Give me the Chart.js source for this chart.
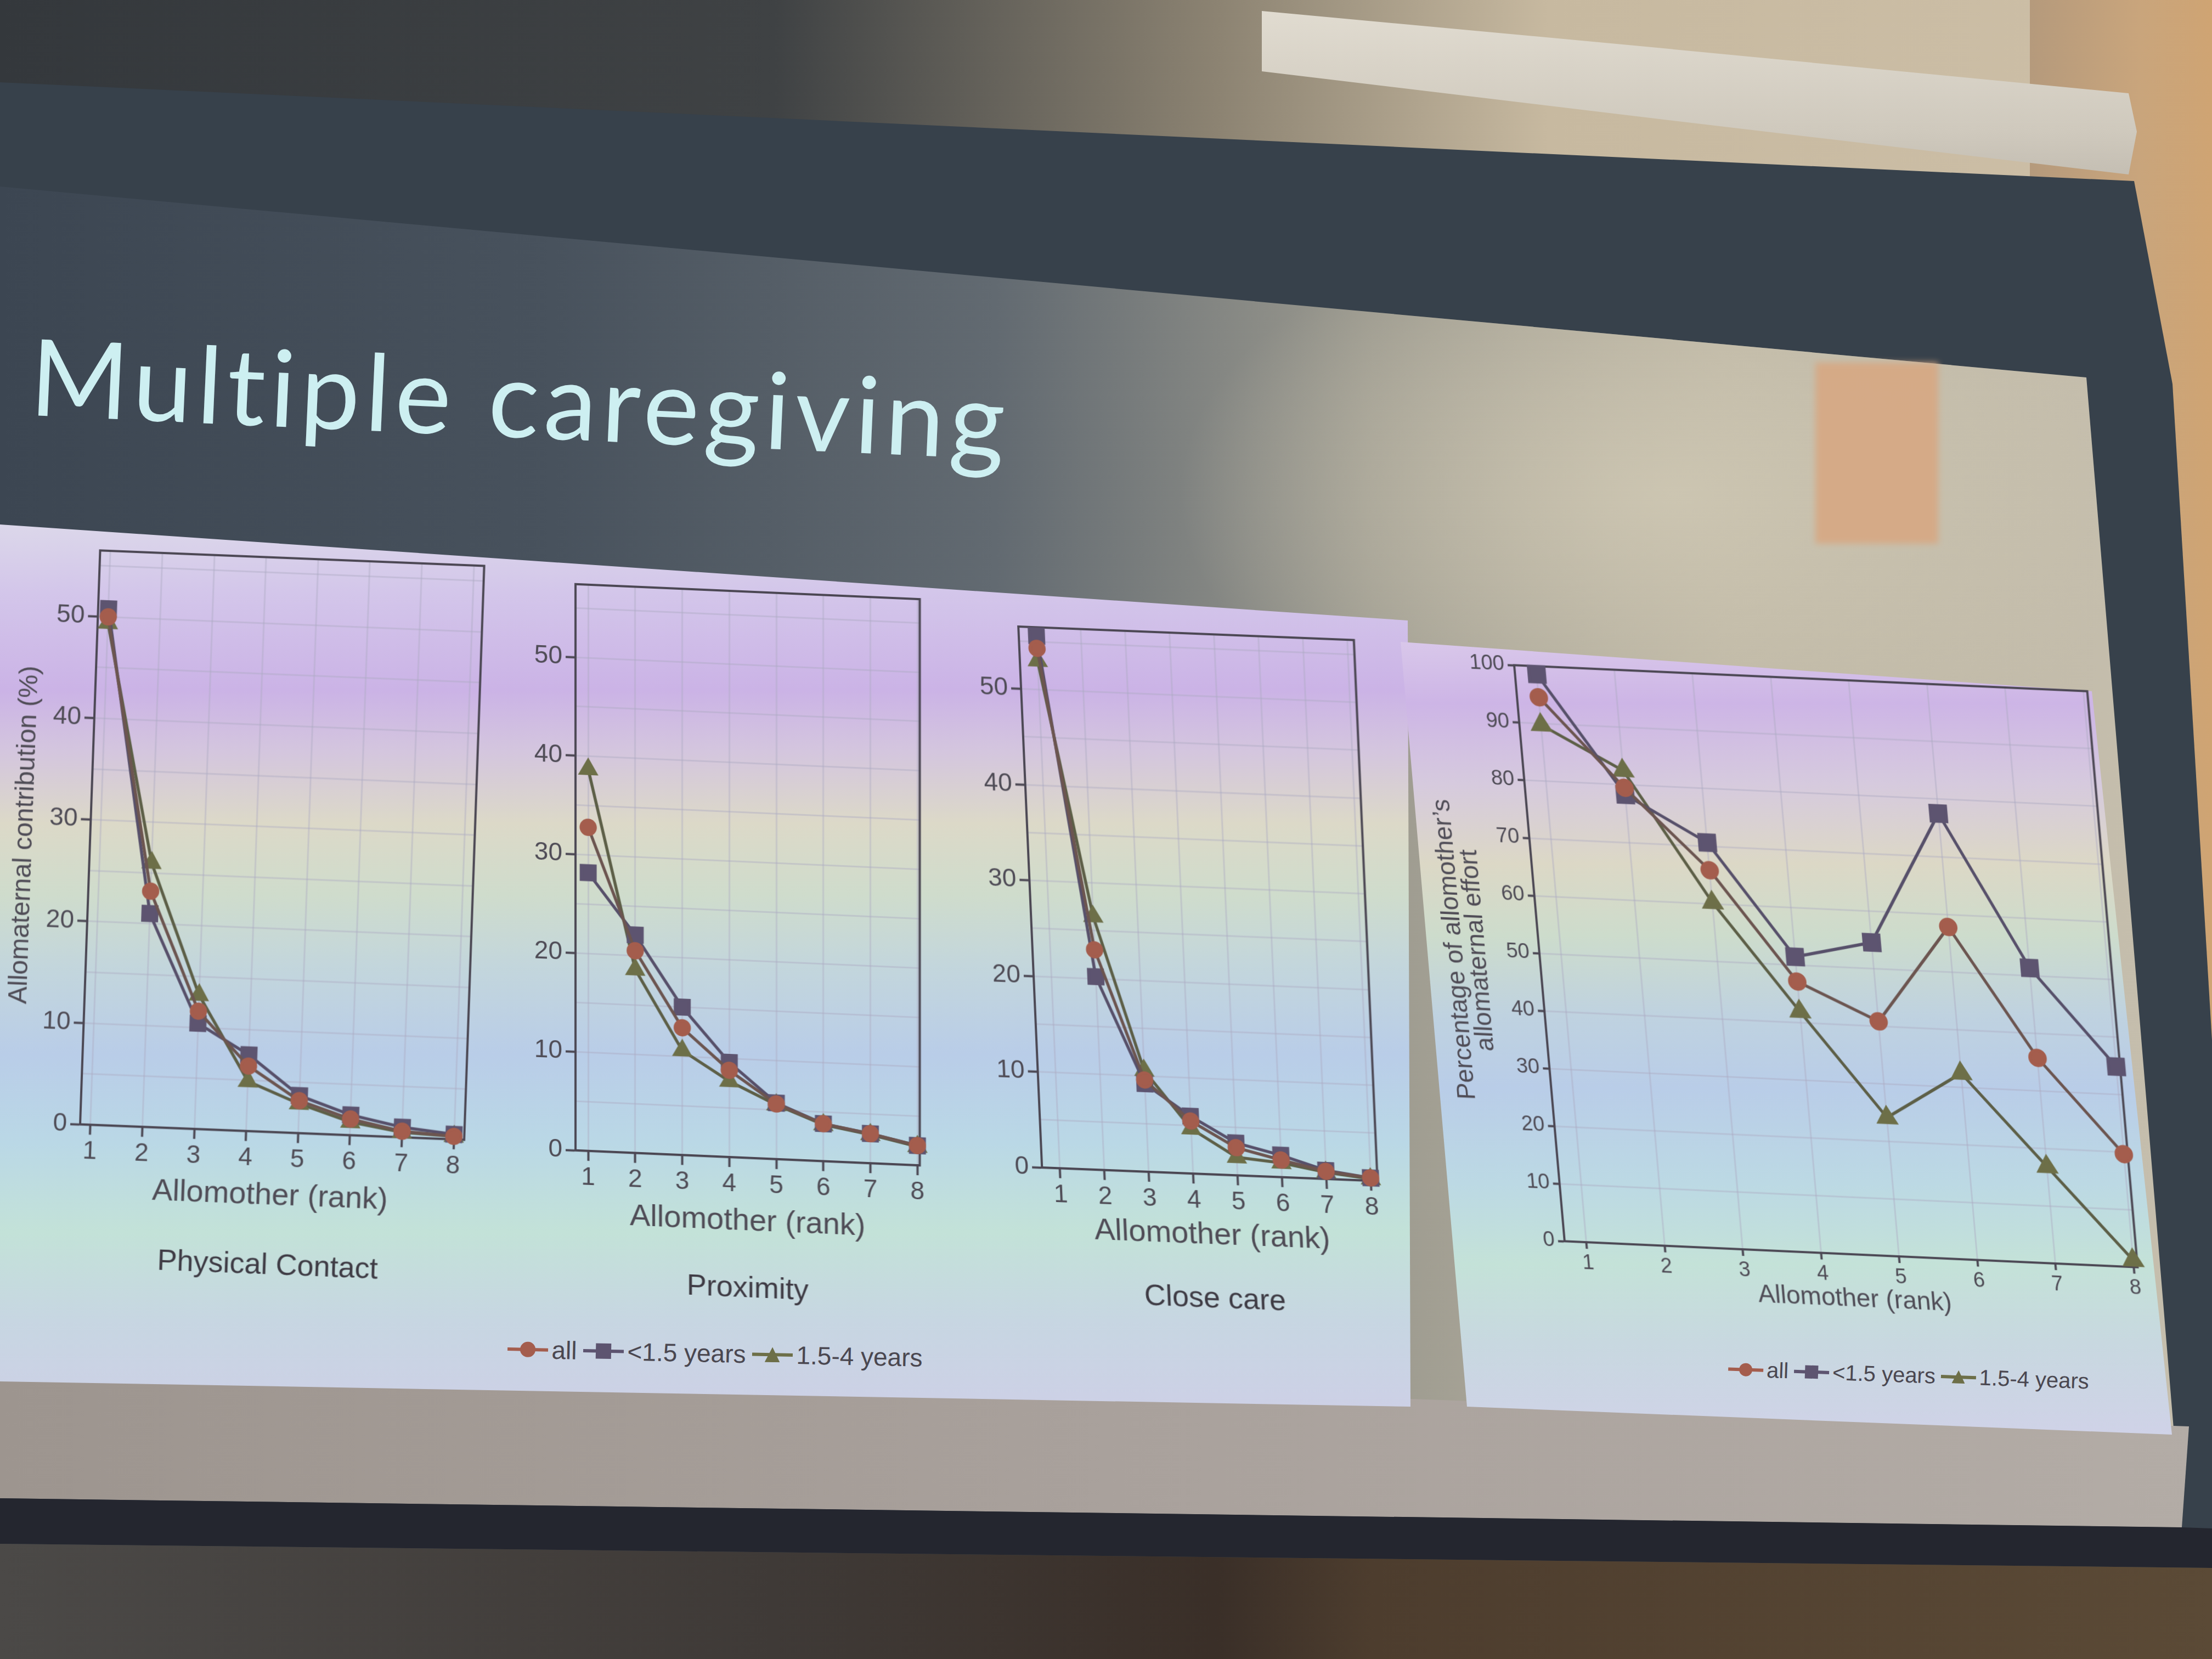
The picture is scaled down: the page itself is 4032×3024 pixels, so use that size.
<!DOCTYPE html>
<html>
<head>
<meta charset="utf-8">
<script src="https://cdn.jsdelivr.net/npm/chart.js@4.4.1/dist/chart.umd.min.js"></script>
<style>
  html, body { margin: 0; padding: 0; }
  body {
    width: 4032px; height: 3024px; position: relative; overflow: hidden;
    background: #3b3531; font-family: "Liberation Sans", Arial, sans-serif;
  }
  .abs { position: absolute; }
  #ceiling { left: 0; top: 0; width: 4032px; height: 420px;
    background: linear-gradient(90deg, #34383c 0%, #3f4244 35%, #8c8372 55%, #c7b9a0 70%, #cdbfa7 100%); }
  #wall { left: 3700px; top: 0; width: 332px; height: 2900px;
    background: linear-gradient(90deg, #b59a7c 0%, #c9a57c 60%, #cfa473 100%); }
  #screen { left: 0; top: 0; width: 4032px; height: 2900px; background: #37414b;
    clip-path: polygon(0 150px, 3890px 330px, 3960px 700px, 4090px 2860px, 0 2815px); }
  #roller { left: 0; top: 0; width: 4032px; height: 400px;
    background: linear-gradient(180deg, #e2ddd2 0%, #cfc9bd 60%, #b9b3a8 100%);
    clip-path: polygon(2300px 20px, 3000px 85px, 3880px 170px, 3895px 240px, 3880px 318px, 3000px 214px, 2300px 130px); }
  #slide { left: 0; top: 0; width: 4032px; height: 2900px;
    background:
      radial-gradient(ellipse 900px 520px at 3050px 900px, rgba(205,198,178,0.95), rgba(205,198,178,0) 100%),
      linear-gradient(90deg, #3c4652 0%, #48525d 25%, #626a71 45%, #9c9a8f 62%, #bdb6a4 78%, #c6bfae 100%);
    clip-path: polygon(0 340px, 3803px 688px, 3977px 2784px, 0 2731px); }
  #logo { left: 3309px; top: 661px; width: 224px; height: 330px; background: #d7a883; filter: blur(6px); opacity: 0.9; }
  #slideFoot { left: 0; top: 0; width: 4032px; height: 2900px;
    background: linear-gradient(90deg, #9d958f 0%, #a9a19c 50%, #b3aca6 100%);
    clip-path: polygon(0 2500px, 2571px 2550px, 3990px 2600px, 3977px 2784px, 0 2731px); }
  #bottomBar { left: 0; top: 0; width: 4032px; height: 3024px; background: #24262f;
    clip-path: polygon(0 2731px, 3977px 2784px, 4032px 2786px, 4032px 2858px, 0 2814px); }
  #floor { left: 0; top: 0; width: 4032px; height: 3024px;
    background: linear-gradient(90deg, #4b4947 0%, #3f3a37 35%, #3a2f28 55%, #4d3d2e 62%, #5b4a36 100%);
    clip-path: polygon(0 2814px, 4032px 2858px, 4032px 3024px, 0 3024px); }
  #title { left: 60px; top: 585px; font-family: "Lato", "Open Sans", sans-serif; font-weight: 400;
    font-size: 194px; line-height: 1; letter-spacing: 9px; color: #cdeff1; white-space: nowrap;
    transform: rotate(2.6deg); transform-origin: 0 0; }
  #panel1 { left: 0; top: 950px; width: 2580px; height: 1620px;
    background: linear-gradient(180deg, #dcd8ea 0%, #d3c6ea 8%, #cbb3e6 19%, #d4c6de 26%, #dcd9c8 34%,
      #cfdccc 42%, #c3d6dc 50%, #b9cde8 60%, #bad8e6 70%, #c3e2d8 80%, #c7d6e2 90%, #cdd0e6 100%);
    clip-path: polygon(0 6px, 2566px 181px, 2571px 1614px, 0 1568px); }
  #panel2 { left: 2550px; top: 1165px; width: 1420px; height: 1460px;
    background: linear-gradient(180deg, #d9c8ea 0%, #cdb5e6 8%, #d6cade 18%, #dcd8c6 28%, #cddccc 37%,
      #bfd2e0 47%, #b9cde8 56%, #bcd9e4 68%, #c4e2d8 78%, #c8d8e0 88%, #d0d2e8 100%);
    clip-path: polygon(3px 5px, 1263px 95px, 1409px 1450px, 124px 1399px); }
  canvas { position: absolute; }
  .legend { position: absolute; font-family: "Liberation Sans Narrow", "Liberation Sans", Arial, sans-serif;
    color: #4a4750; white-space: nowrap; display: flex; align-items: center; }
  .legend .item { display: inline-flex; align-items: center; }
  .legend .sym { position: relative; display: inline-block; }
  .legend .bar { position: absolute; left: 0; right: 0; top: 50%; }
  .legend .mk { position: absolute; left: 50%; top: 50%; }
</style>
</head>
<body>
<div id="ceiling" class="abs"></div>
<div id="wall" class="abs"></div>
<div id="screen" class="abs"></div>
<div id="roller" class="abs"></div>
<div id="slide" class="abs"></div>
<div id="logo" class="abs"></div>
<div id="slideFoot" class="abs"></div>
<div id="bottomBar" class="abs"></div>
<div id="floor" class="abs"></div>
<div id="title" class="abs">Multiple caregiving</div>
<div id="panel1" class="abs"></div>
<div id="panel2" class="abs"></div>

<canvas id="contact" width="880" height="1393" style="left:10px; top:965px; transform: skew(-2deg, 2.3deg);"></canvas>
<canvas id="proximity" width="741" height="1364" style="left:959px; top:1037px; transform: skew(0deg, 2.5deg);"></canvas>
<canvas id="closecare" width="725" height="1307" style="left:1793px; top:1113px; transform: skew(2.5deg, 2.3deg);"></canvas>
<canvas id="effort" width="1280" height="1222" style="left:2600px; top:1192px; transform: skew(5deg, 2.6deg);"></canvas>

<div id="legend1" class="legend" style="left:925px; top:2440px; font-size:46px; transform: rotate(1.2deg);"></div>
<div id="legend2" class="legend" style="left:3150px; top:2484px; font-size:40px; transform: rotate(2deg);"></div>

<script>
// allomother rank on the x axis
const ranks = [1, 2, 3, 4, 5, 6, 7, 8];
const seriesNames = ["all", "<1.5 years", "1.5-4 years"];

// Physical Contact (%)
const contactAll = [50.0, 23.2, 11.6, 6.4, 3.2, 1.6, 0.6, 0.3];
const contactYoung = [50.8, 21.0, 10.4, 7.5, 3.7, 2.0, 1.0, 0.5];
const contactOld = [49.4, 26.0, 13.2, 4.9, 2.9, 1.3, 0.5, 0.3];

// Proximity (%)
const proximityAll = [32.8, 20.5, 12.9, 8.8, 5.6, 3.8, 3.0, 2.0];
const proximityYoung = [28.2, 22.1, 15.0, 9.6, 5.7, 3.8, 3.0, 2.0];
const proximityOld = [38.7, 18.6, 10.6, 7.7, 5.5, 3.7, 2.9, 1.9];

// Close care (%)
const closeAll = [54.3, 23.0, 9.6, 5.5, 2.9, 1.8, 0.8, 0.3];
const closeYoung = [55.6, 20.2, 9.2, 6.0, 3.4, 2.3, 0.9, 0.3];
const closeOld = [53.0, 26.5, 10.6, 4.7, 1.9, 1.5, 0.7, 0.2];

// percentage of allomother's allomaternal effort
const effortAll = [94.6, 79.5, 65.8, 47.1, 40.8, 57.8, 35.7, 19.6];
const effortYoung = [98.6, 78.3, 70.6, 51.4, 54.5, 77.5, 51.3, 34.8];
const effortOld = [89.8, 82.5, 60.2, 41.9, 24.1, 32.4, 16.8, 1.2];

// y ticks: grid every 5, labels every 10
const contributionGrid = [0, 5, 10, 15, 20, 25, 30, 35, 40, 45, 50, 55];
const contributionLabels = [0, 10, 20, 30, 40, 50];
const effortGrid = [0, 10, 20, 30, 40, 50, 60, 70, 80, 90, 100];
const effortLabels = [0, 10, 20, 30, 40, 50, 60, 70, 80, 90, 100];

const markerColors = ["#a45d4d", "#5d5470", "#6d6f48"];
const lineColors = ["#6c5550", "#57506a", "#5d5f47"];
const pointStyles = ["circle", "rect", "triangle"];
const axisColor = "#4b4753";
const textColor = "#4f4c56";
const gridColor = "rgba(172, 170, 192, 0.42)";
const fontFamily = "'Liberation Sans', Arial, sans-serif";

const plotFrame = {
  id: "plotFrame",
  beforeDatasetsDraw(chart) {
    const { ctx, chartArea } = chart;
    ctx.save();
    ctx.strokeStyle = axisColor;
    ctx.lineWidth = 4;
    ctx.strokeRect(chartArea.left, chartArea.top, chartArea.right - chartArea.left, chartArea.bottom - chartArea.top);
    ctx.restore();
  },
};

function makeChart(id, o) {
  const ctx = document.getElementById(id).getContext("2d");
  return new Chart(ctx, {
    type: "line",
    data: {
      datasets: o.series.map((vals, i) => ({
        label: seriesNames[i],
        data: ranks.map((r, k) => ({ x: r, y: vals[k] })),
        borderColor: lineColors[i],
        backgroundColor: markerColors[i],
        pointBackgroundColor: markerColors[i],
        pointBorderColor: markerColors[i],
        pointStyle: pointStyles[i],
        pointRadius: o.radius[i],
        borderWidth: 5.5,
        tension: 0,
        clip: false,
      })),
    },
    options: {
      responsive: false,
      animation: false,
      devicePixelRatio: 1,
      layout: { padding: o.padding },
      scales: {
        x: {
          type: "linear",
          min: o.xMin,
          max: o.xMax,
          afterBuildTicks: (s) => { s.ticks = ranks.map((v) => ({ value: v })); },
          afterFit: (s) => { s.height = o.xHeight; },
          ticks: { color: textColor, font: { size: o.tickSize, family: fontFamily }, padding: o.tickPad, maxRotation: 0, autoSkip: false },
          grid: { color: gridColor, lineWidth: 3, tickLength: o.tickLength, tickColor: axisColor, tickWidth: 4 },
          border: { color: axisColor, width: 4 },
          title: {
            display: true, text: "Allomother (rank)", color: textColor, padding: 0,
            font: { size: o.xTitleSize, family: fontFamily },
          },
        },
        y: {
          min: 0,
          max: o.yMax,
          afterBuildTicks: (s) => { s.ticks = o.yGrid.map((v) => ({ value: v })); },
          afterFit: (s) => { s.width = o.yWidth; },
          ticks: {
            color: textColor, padding: 6, font: { size: o.tickSize, family: fontFamily },
            callback: (v) => (o.yLabels.includes(v) ? v : ""),
          },
          grid: {
            color: gridColor, lineWidth: 3, tickLength: o.tickLength, tickWidth: 4,
            tickColor: (c) => (c.tick && o.yLabels.includes(c.tick.value) ? axisColor : "transparent"),
          },
          border: { color: axisColor, width: 4 },
          title: {
            display: !!o.yTitle, text: o.yTitle, color: textColor, padding: { top: o.yTitlePad, bottom: 0 },
            font: { size: o.yTitleSize, family: fontFamily, lineHeight: o.yTitleLine || 1.2 },
          },
        },
      },
      plugins: {
        legend: { display: false },
        tooltip: { enabled: false },
        title: {
          display: !!o.caption, text: o.caption, position: "bottom", fullSize: false, color: "#3e3b44",
          font: { size: 54, weight: "normal", family: fontFamily },
          padding: { top: o.captionPad || 0, bottom: 0 },
        },
      },
    },
    plugins: [plotFrame],
  });
}

makeChart("contact", {
  series: [contactAll, contactYoung, contactOld],
  xMin: 0.8, xMax: 8.2, yMax: 56.5,
  yGrid: contributionGrid, yLabels: contributionLabels,
  yWidth: 150, xHeight: 150, tickSize: 46, tickLength: 18, tickPad: 4, xTitleSize: 56,
  yTitle: "Allomaternal contribution (%)", yTitleSize: 48, yTitlePad: 2,
  caption: "Physical Contact", captionPad: 62,
  radius: [13, 18, 16],
  padding: { left: 0, right: 30, top: 50, bottom: 20 },
});

makeChart("proximity", {
  series: [proximityAll, proximityYoung, proximityOld],
  xMin: 0.73, xMax: 8.05, yMax: 57.4,
  yGrid: contributionGrid, yLabels: contributionLabels,
  yWidth: 90, xHeight: 150, tickSize: 46, tickLength: 18, tickPad: 4, xTitleSize: 56,
  caption: "Proximity", captionPad: 57,
  radius: [13, 18, 16],
  padding: { left: 0, right: 20, top: 40, bottom: 20 },
});

makeChart("closecare", {
  series: [closeAll, closeYoung, closeOld],
  xMin: 0.6, xMax: 8.15, yMax: 56.5,
  yGrid: contributionGrid, yLabels: contributionLabels,
  yWidth: 90, xHeight: 145, tickSize: 46, tickLength: 18, tickPad: 4, xTitleSize: 56,
  caption: "Close care", captionPad: 51,
  radius: [13, 18, 16],
  padding: { left: 0, right: 20, top: 40, bottom: 20 },
});

makeChart("effort", {
  series: [effortAll, effortYoung, effortOld],
  xMin: 0.72, xMax: 8.05, yMax: 100,
  yGrid: effortGrid, yLabels: effortLabels,
  yWidth: 210, xHeight: 110, tickSize: 38, tickLength: 12, tickPad: 4, xTitleSize: 46,
  yTitle: ["Percentage of allomother\u2019s", "allomaternal effort"], yTitleSize: 46, yTitlePad: 36, yTitleLine: 0.9,
  radius: [14, 20, 18],
  padding: { left: 0, right: 20, top: 40, bottom: 22 },
});

// shared legends, line + marker swatches like the original figure
function buildLegend(id, size) {
  const el = document.getElementById(id);
  seriesNames.forEach((name, i) => {
    const item = document.createElement("span");
    item.className = "item";
    const sym = document.createElement("span");
    sym.className = "sym";
    sym.style.width = size * 1.6 + "px";
    sym.style.height = size + "px";
    sym.style.margin = "0 " + size * 0.15 + "px 0 " + (i ? size * 0.25 : 0) + "px";
    const bar = document.createElement("span");
    bar.className = "bar";
    bar.style.height = "6px";
    bar.style.marginTop = "-3px";
    bar.style.background = markerColors[i];
    const mk = document.createElement("span");
    mk.className = "mk";
    mk.style.width = size * 0.6 + "px";
    mk.style.height = size * 0.6 + "px";
    mk.style.marginLeft = -size * 0.3 + "px";
    mk.style.marginTop = -size * 0.3 + "px";
    mk.style.background = markerColors[i];
    if (pointStyles[i] === "circle") mk.style.borderRadius = "50%";
    if (pointStyles[i] === "triangle") mk.style.clipPath = "polygon(50% 0, 100% 100%, 0 100%)";
    sym.appendChild(bar);
    sym.appendChild(mk);
    const txt = document.createElement("span");
    txt.textContent = name;
    item.appendChild(sym);
    item.appendChild(txt);
    el.appendChild(item);
  });
}

buildLegend("legend1", 46);
buildLegend("legend2", 40);
</script>
</body>
</html>
